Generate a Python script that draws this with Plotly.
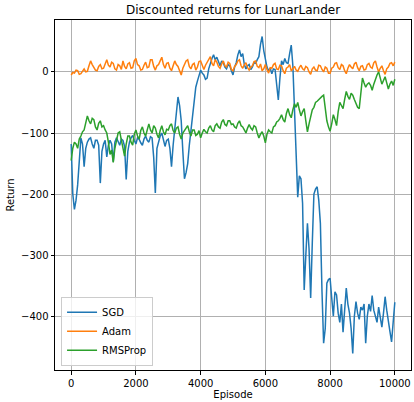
import plotly.graph_objects as go

episodes = list(range(0, 10001, 50))

sgd = [-118, -200, -225, -210, -185, -140, -108, -118, -155, -125,
       -115, -110, -108, -118, -125, -112, -112, -120, -182, -130,
       -118, -112, -139, -120, -112, -118, -147, -115, -108, -114,
       -120, -110, -112, -122, -176, -130, -115, -108, -104, -112,
       -118, -108, -110, -116, -120, -110, -105, -112, -115, -106,
       -108, -140, -198, -125, -112, -105, -100, -110, -122, -112,
       -110, -125, -155, -120, -95, -60, -41, -55, -80, -130,
       -175, -165, -150, -120, -95, -70, -40, -25, -15, -5,
       3, -2, -5, -12, -10, 5, 15, 22, 28, 20,
       24, 15, 10, 18, 15, 8, 5, 12, 10, 2,
       -5, 8, 15, 28, 36, 25, 30, 12, 5, 10,
       12, 4, 8, 15, 14, 20, 25, 45, 58, 35,
       20, 8, 2, 6, -3, 5, 4, -20, -46, -10,
       18, 12, 22, 15, 14, 30, 44, 10, -60, -140,
       -205, -170, -175, -215, -357, -300, -248, -290, -370, -280,
       -200, -192, -188, -210, -248, -360, -444, -420, -346, -340,
       -338, -370, -400, -360, -365, -395, -410, -380, -426, -390,
       -354, -380, -395, -420, -461, -400, -376, -395, -405, -385,
       -390, -380, -444, -400, -380, -392, -366, -390, -400, -410,
       -385, -400, -418, -395, -368, -390, -412, -425, -442, -400,
       -377]

adam = [-5, -1, -2, 3, 2, -4, -3, 2, 5, 0,
        1, 10, 18, 12, 8, 3, 2, 9, 12, 5,
        6, 14, 20, 11, 8, 16, 14, 5, 3, 12,
        10, 4, 18, 9, 5, 13, 15, 6, 7, 18,
        22, 12, 10, 3, 4, 11, 16, 7, 8, 20,
        20, 9, 3, 10, 12, 18, 24, 12, 6, 14,
        15, 6, 2, 10, 18, 12, 9, 2, -5, 6,
        12, 18, 20, 9, 5, 12, 14, 3, 8, 17,
        18, 9, 4, 11, 15, 20, 25, 14, 10, 20,
        16, 9, 6, 13, 18, 10, 8, 16, 14, 4,
        2, 9, 12, 18, 20, 10, 6, 12, 15, 7,
        3, 8, 10, 17, 18, 9, 7, 13, 2, 5,
        12, 4, -2, 7, 6, 12, 14, 5, 4, 11,
        10, 2, -3, 6, 8, 12, 2, 5, 9, 3,
        1, 7, 11, 5, 3, 9, 7, 0, -4, 5,
        8, 3, 2, 11, 10, 4, 0, 8, 6, -2,
        -2, 6, 8, 14, 15, 7, 4, 12, 10, 2,
        -3, 6, 12, 8, 5, 13, 16, 7, 2, 9,
        10, 3, 4, 12, 14, 8, 6, 15, 18, 8,
        0, 6, 10, 2, -4, 5, 8, 14, 15, 10,
        16]

rmsprop = [-145, -125, -115, -118, -125, -110, -105, -98, -95, -82,
           -72, -80, -85, -76, -78, -90, -95, -84, -80, -90,
           -88, -95, -100, -115, -135, -128, -148, -125, -110, -100,
           -98, -112, -125, -138, -118, -105, -105, -115, -120, -102,
           -95, -105, -110, -96, -90, -100, -105, -92, -85, -95,
           -100, -88, -92, -102, -108, -96, -88, -98, -103, -94,
           -95, -88, -85, -96, -100, -92, -90, -102, -110, -100,
           -96, -90, -88, -98, -105, -95, -95, -104, -102, -96,
           -108, -100, -94, -98, -100, -92, -88, -95, -98, -88,
           -85, -90, -92, -82, -78, -86, -88, -80, -80, -86,
           -85, -90, -92, -84, -80, -88, -90, -95, -100, -92,
           -86, -92, -95, -88, -90, -100, -108, -102, -98, -105,
           -116, -102, -95, -98, -100, -90, -88, -82, -80, -76,
           -70, -78, -82, -68, -60, -70, -75, -62, -52, -58,
           -50, -62, -72, -65, -60, -80, -98, -85, -70, -62,
           -58, -50, -48, -45, -43, -40, -38, -60, -80, -90,
           -97, -85, -70, -78, -88, -65, -50, -55, -60, -45,
           -32, -40, -45, -35, -38, -45, -52, -58, -60, -30,
           -10, -18, -25, -20, -18, -22, -30, -20, -12, -5,
           0, -10, -20, -14, -8, -18, -28, -20, -15, -22,
           -12]

x_ticks = [0, 2000, 4000, 6000, 8000, 10000]
x_tick_labels = ["0", "2000", "4000", "6000", "8000", "10000"]
y_ticks = [-400, -300, -200, -100, 0]
y_tick_labels = ["\u2212400", "\u2212300", "\u2212200", "\u2212100", "0"]

font = "DejaVu Sans, sans-serif"
fig = go.Figure()
for name, vals, col in [("SGD", sgd, "#1f77b4"), ("Adam", adam, "#ff7f0e"),
                        ("RMSProp", rmsprop, "#2ca02c")]:
    fig.add_trace(go.Scatter(x=episodes, y=vals, mode="lines", name=name,
                             line=dict(color=col, width=1.5)))

axis_common = dict(showline=True, linecolor="black", linewidth=1, mirror=True,
                   showgrid=True, gridcolor="#b0b0b0", gridwidth=1,
                   ticks="outside", ticklen=3.5, tickcolor="black",
                   zeroline=False, tickfont=dict(size=10, color="black"),
                   automargin=False)

fig.update_layout(
    width=414, height=402,
    margin=dict(l=55, r=3, t=20, b=32),
    paper_bgcolor="white", plot_bgcolor="white",
    font=dict(family=font, size=10, color="black"),
    title=dict(text="Discounted returns for LunarLander", x=0.563, xanchor="center",
               y=0.975, yanchor="middle", font=dict(size=12)),
    xaxis=dict(range=[-500, 10500], tickvals=x_ticks, ticktext=x_tick_labels,
               title=dict(text="Episode", standoff=2, font=dict(size=10)), **axis_common),
    yaxis=dict(range=[-488, 85], tickvals=y_ticks, ticktext=y_tick_labels,
               title=dict(text="Return", standoff=4, font=dict(size=10)), **axis_common),
    legend=dict(x=0.017, y=0.012, xanchor="left", yanchor="bottom",
                bgcolor="rgba(255,255,255,0.8)", bordercolor="#cccccc", borderwidth=1,
                font=dict(size=10), tracegroupgap=0, itemwidth=30),
    showlegend=True,
)

fig.write_html("out.html", config={"displayModeBar": False},
               post_script="document.body.style.margin='0';")
